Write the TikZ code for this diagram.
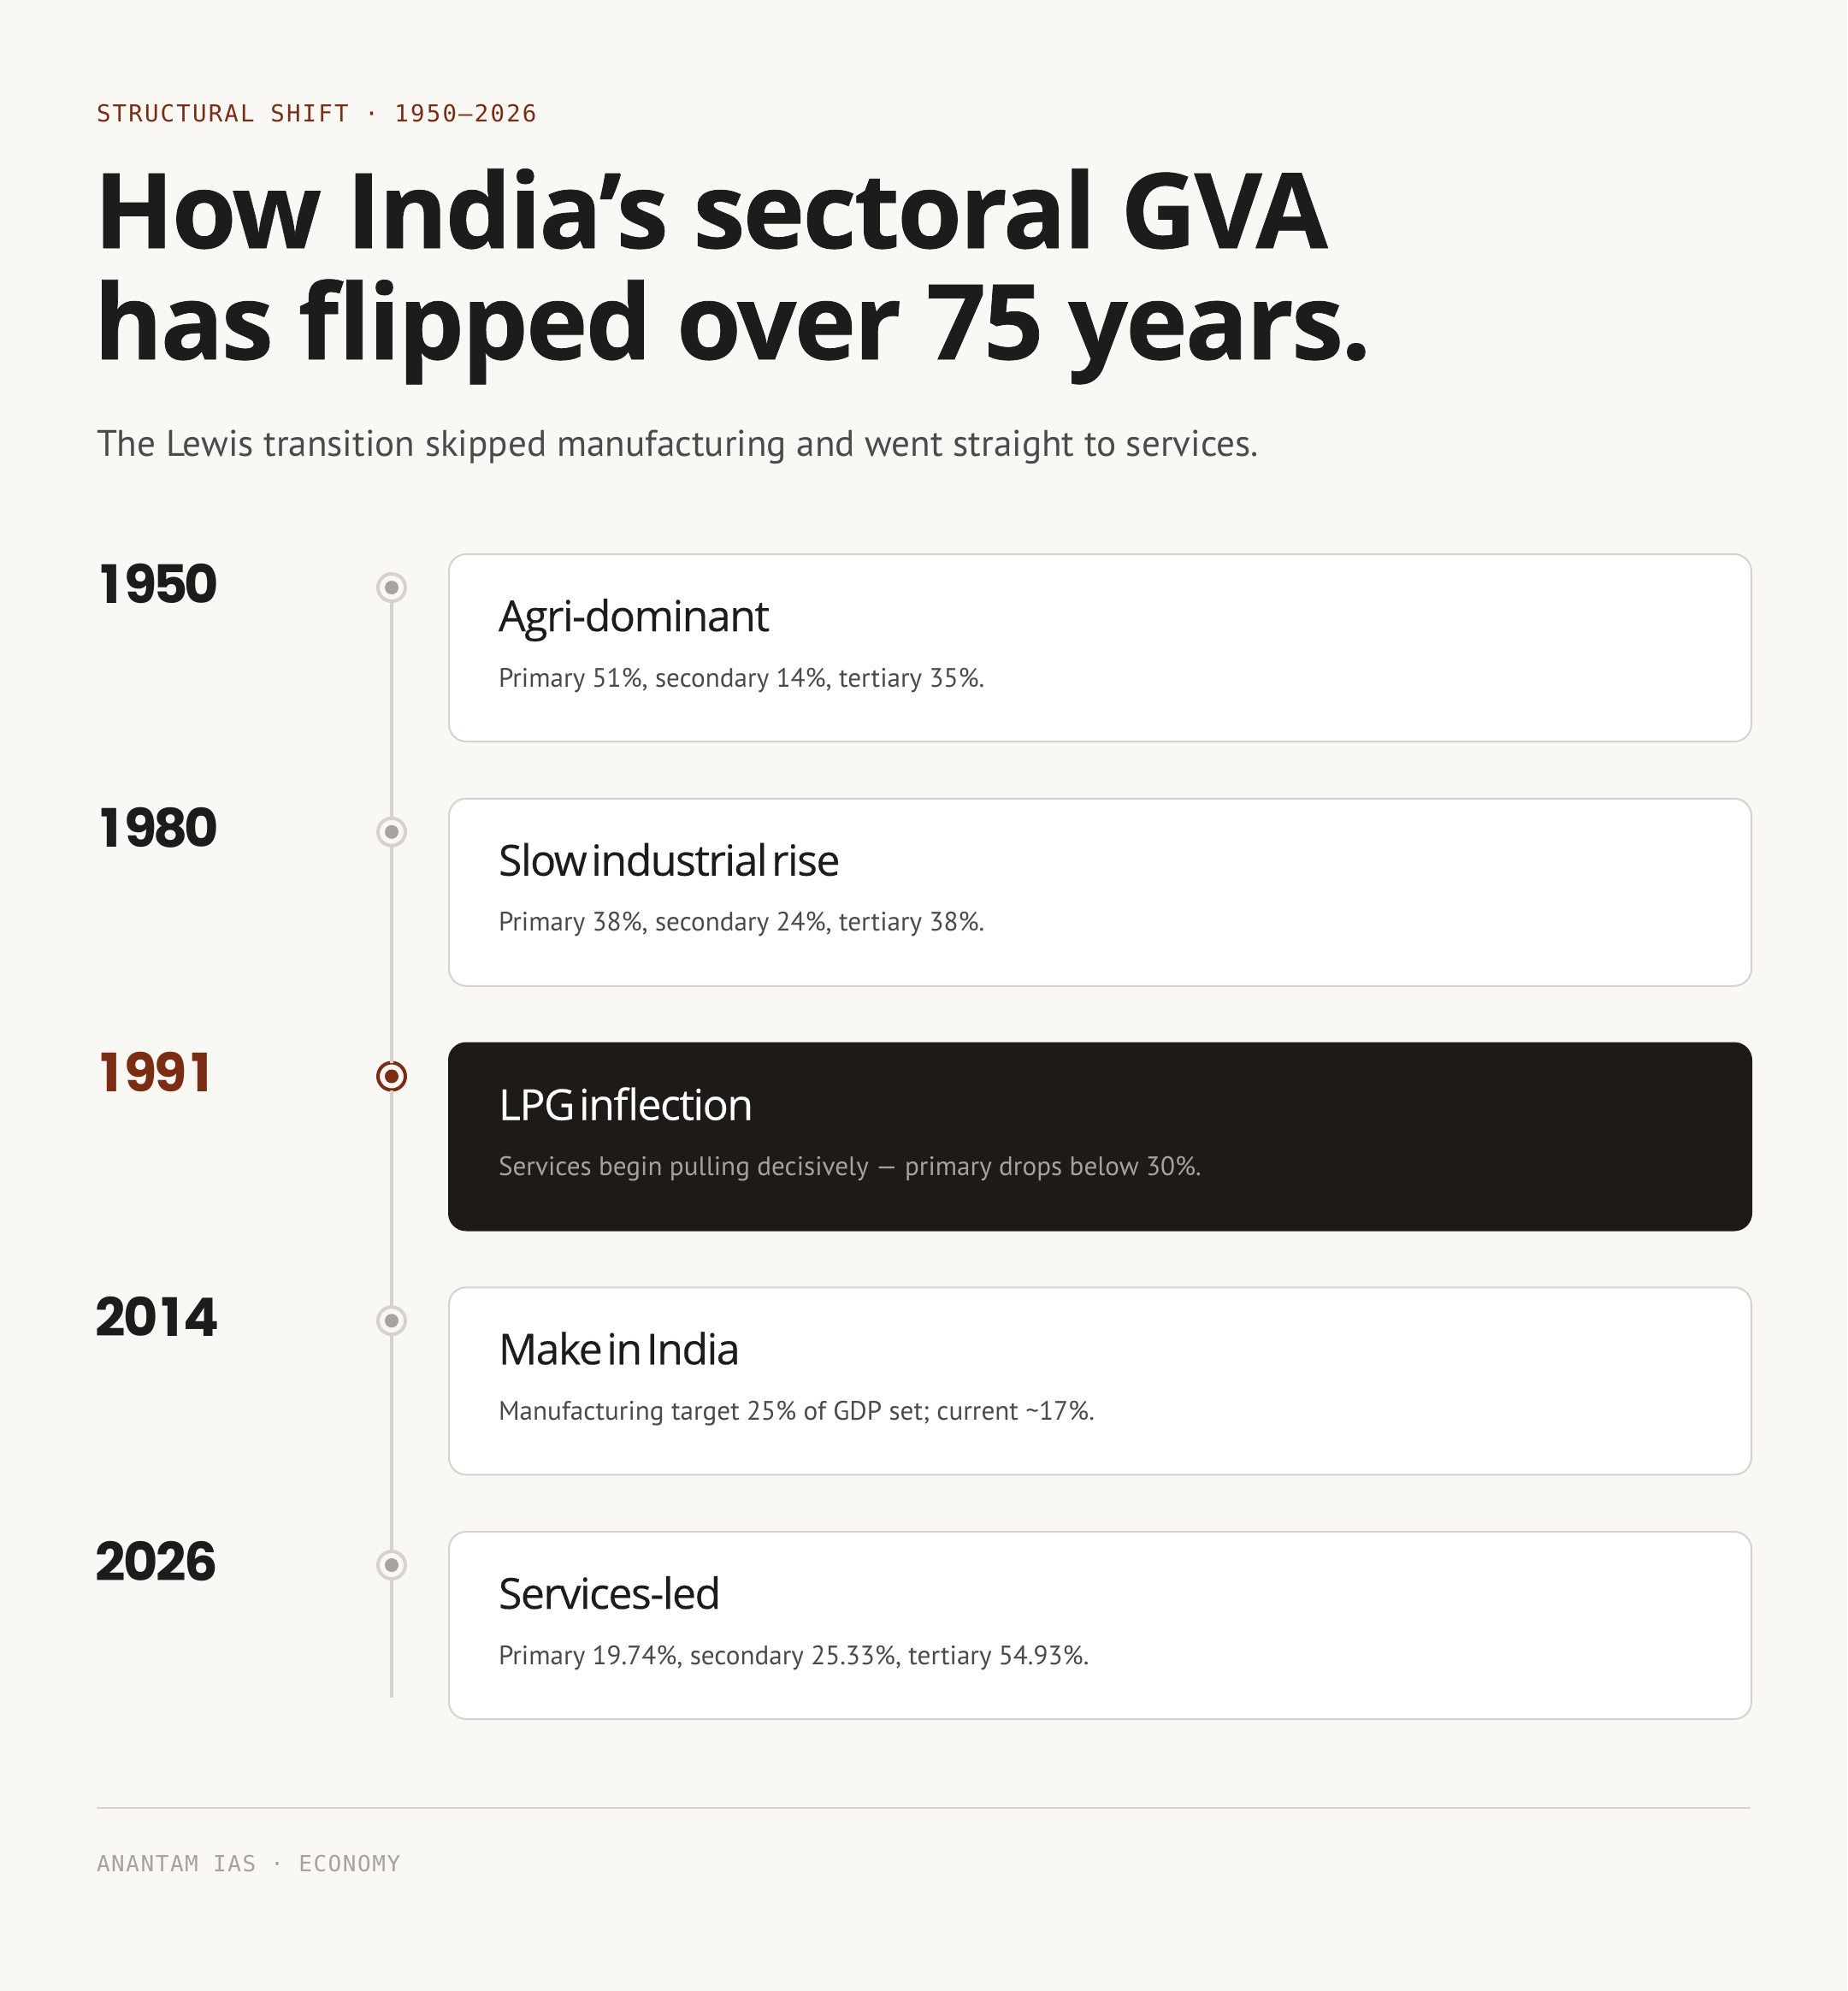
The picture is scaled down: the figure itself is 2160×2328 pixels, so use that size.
\documentclass[tikz,border=0pt]{standalone}
\usepackage{fontspec}
\usetikzlibrary{positioning}
\setmainfont{PT Sans}
\newfontfamily\headfont[LetterSpace=-2,FakeBold=0.6]{Open Sans}
\newfontfamily\cardfont[LetterSpace=-3,WordSpace=0.4,FakeBold=0.25]{Open Sans}
\newfontfamily\yearfont{Poppins}
\newfontfamily\kickfont[LetterSpace=8]{DejaVu Sans Mono}
\newfontfamily\footfont[LetterSpace=6]{DejaVu Sans Mono}
\newcommand\tabyear[4]{\makebox[17.8pt][c]{#1}\makebox[17.8pt][c]{#2}\makebox[17.8pt][c]{#3}\makebox[17.8pt][c]{#4}}
\definecolor{bg}{HTML}{FAF8F4}
\definecolor{ink}{HTML}{1C1C1C}
\definecolor{rust}{HTML}{7B2D14}
\definecolor{rule}{HTML}{D6D2CC}
\definecolor{dotgray}{HTML}{A9A39E}
\definecolor{night}{HTML}{1E1A17}
\definecolor{body}{HTML}{4C4A48}
\definecolor{mute}{HTML}{A8A29C}
\begin{document}
\begin{tikzpicture}[x=0.5pt,y=-0.5pt,
  txt/.style={anchor=base west,inner sep=0pt,outer sep=0pt},
  card/.style={draw=rule,line width=1pt,fill=white,rounded corners=10pt,anchor=north west,
    minimum width=761.5pt,minimum height=109.5pt,inner sep=0pt},
  darkcard/.style={card,draw=night,fill=night},
  ring/.style={circle,draw=rule,line width=2pt,fill=bg,minimum size=16pt,inner sep=0pt,outer sep=0pt},
  hotring/.style={ring,draw=rust},
  spine/.style={draw=rule,line width=1.75pt},
  year/.style={txt,font=\yearfont\bfseries\fontsize{31pt}{31pt}\selectfont,text=ink},
  cardtitle/.style={txt,font=\cardfont\fontsize{25pt}{25pt}\selectfont,text=ink},
  carddesc/.style={txt,font=\fontsize{15.6pt}{15.6pt}\selectfont,text=body}]

  \fill[bg] (0,0) rectangle (2160,2328);
  \useasboundingbox (0,0) rectangle (2160,2328);

  % header
  \node[txt,font=\kickfont\fontsize{13.7pt}{13.7pt}\selectfont,text=rust] (kicker) at (113,142)
    {STRUCTURAL SHIFT · 1950–2026};
  \node[txt,font=\headfont\bfseries\fontsize{61pt}{61pt}\selectfont,text=ink] (head1) at (110,290)
    {How India’s sectoral GVA};
  \node[txt,font=\headfont\bfseries\fontsize{61pt}{61pt}\selectfont,text=ink] (head2) at (110,420)
    {has flipped over 75 years.};
  \node[txt,font=\fontsize{21.6pt}{21.6pt}\selectfont,text=body] (sub) at (113,533)
    {The Lewis transition skipped manufacturing and went straight to services.};

  % cards
  \node[card] (c1) at (524,647) {};
  \node[card] (c2) at (524,932.75) {};
  \node[darkcard] (c3) at (524,1218.5) {};
  \node[card] (c4) at (524,1504.25) {};
  \node[card] (c5) at (524,1790) {};

  \node[cardtitle] (t1) at ([shift={(59,91)}]c1.north west) {Agri-dominant};
  \node[carddesc] (p1) at ([shift={(59,156)}]c1.north west) {Primary 51\%, secondary 14\%, tertiary 35\%.};
  \node[cardtitle] (t2) at ([shift={(59,91)}]c2.north west) {Slow industrial rise};
  \node[carddesc] (p2) at ([shift={(59,156)}]c2.north west) {Primary 38\%, secondary 24\%, tertiary 38\%.};
  \node[cardtitle,text=white] (t3) at ([shift={(59,91)}]c3.north west) {LPG inflection};
  \node[carddesc,text=mute] (p3) at ([shift={(59,156)}]c3.north west) {Services begin pulling decisively — primary drops below 30\%.};
  \node[cardtitle] (t4) at ([shift={(59,91)}]c4.north west) {Make in India};
  \node[carddesc] (p4) at ([shift={(59,156)}]c4.north west) {Manufacturing target 25\% of GDP set; current \textasciitilde17\%.};
  \node[cardtitle] (t5) at ([shift={(59,91)}]c5.north west) {Services-led};
  \node[carddesc] (p5) at ([shift={(59,156)}]c5.north west) {Primary 19.74\%, secondary 25.33\%, tertiary 54.93\%.};

  % years
  \node[year] (y1) at ([shift={(-413,58)}]c1.north west) {\tabyear1950};
  \node[year] (y2) at ([shift={(-413,58)}]c2.north west) {\tabyear1980};
  \node[year,text=rust] (y3) at ([shift={(-413,58)}]c3.north west) {\tabyear1991};
  \node[year] (y4) at ([shift={(-413,58)}]c4.north west) {\tabyear2014};
  \node[year] (y5) at ([shift={(-413,58)}]c5.north west) {\tabyear2026};

  % timeline
  \node[ring] (d1) at ([shift={(-66,40)}]c1.north west) {};
  \node[ring] (d2) at ([shift={(-66,40)}]c2.north west) {};
  \node[hotring] (d3) at ([shift={(-66,40)}]c3.north west) {};
  \node[ring] (d4) at ([shift={(-66,40)}]c4.north west) {};
  \node[ring] (d5) at ([shift={(-66,40)}]c5.north west) {};
  \coordinate (tlend) at (458,1985);

  \path[spine] (d1) -- (d2) (d2) -- (d3) (d3) -- (d4) (d4) -- (d5) (d5) -- (tlend);

  \fill[dotgray] (d1) circle (4pt);
  \fill[dotgray] (d2) circle (4pt);
  \fill[rust] (d3) circle (4pt);
  \fill[dotgray] (d4) circle (4pt);
  \fill[dotgray] (d5) circle (4pt);

  % footer
  \coordinate (fl) at (113,2114);
  \coordinate (fr) at (2047,2114);
  \draw[draw=rule,line width=1pt] (fl) -- (fr);
  \node[txt,font=\footfont\fontsize{13pt}{13pt}\selectfont,text=mute] (foot) at (113,2188)
    {ANANTAM IAS · ECONOMY};
\end{tikzpicture}
\end{document}
